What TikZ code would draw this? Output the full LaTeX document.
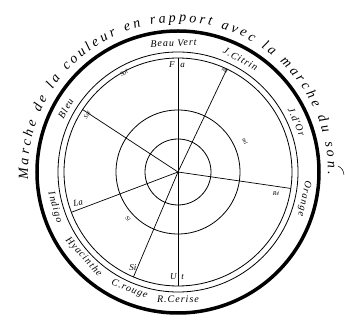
\documentclass[tikz,border=0pt]{standalone}
\usepackage{fontspec}
\setmainfont{Liberation Serif}
\newfontfamily\labfont[LetterSpace=10]{Liberation Serif}
\newcommand\ttlfont{\itshape\fontsize{14}{14}\selectfont}
\usetikzlibrary{decorations.text}
\begin{document}
\begin{tikzpicture}[x=1pt,y=1pt,
  ring/.style={line width=0.8pt},
  spoke/.style={line width=0.7pt},
  bandlab/.style={font=\labfont\itshape\fontsize{10}{10}\selectfont, inner sep=0pt},
  note/.style={font=\itshape\fontsize{9}{9}\selectfont, inner sep=0pt},
  tinylab/.style={font=\itshape\fontsize{6}{6}\selectfont, inner sep=0pt}]
\useasboundingbox (-178,-148) rectangle (167,172);
\coordinate (C) at (0,0);
% circles
\draw[line width=3.5pt] (C) circle (141);
\draw[ring] (C) circle (120);
\draw[ring] (C) circle (114);
\draw[ring] (C) circle (62);
\draw[ring] (C) circle (33);
% spokes
\coordinate (pFa) at (90:114);
\coordinate (pUt) at (270:114);
\coordinate (pMi) at (64.6:114);
\coordinate (pRe) at (-8.3:114);
\coordinate (pSi) at (247:114);
\coordinate (pLa) at (200.7:114);
\coordinate (pSol) at (146.8:114);
\draw[spoke] (pFa) -- (pUt);
\draw[spoke] (C) -- (pMi);
\draw[spoke] (C) -- (pRe);
\draw[spoke] (C) -- (pSi);
\draw[spoke] (C) -- (pLa);
\draw[spoke] (C) -- (pSol);
% title along the outside
\path[decorate, decoration={text along path,
  text={|\ttlfont|Marche de la couleur en rapport avec la marche du son.},
  text align={fit to path}}]
  (183:150) arc[start angle=183, end angle=-1, radius=150];
\coordinate (f1) at (160,6);
\coordinate (f2) at (166,-3);
\draw[line width=0.5pt] (f1) to[bend left=30] (f2);
% colour names in the band
\node[bandlab, rotate=2.3] (bv) at (92:129) {Beau Vert};
\node[bandlab, rotate=-29] (jc) at (61:129) {J.Citrin};
\node[bandlab, rotate=-67] (jo) at (23:129) {J.d'Or};
\node[bandlab, rotate=-102] (or) at (-12:129) {Orange};
\node[bandlab, rotate=0] (rc) at (-90:127) {R.Cerise};
\node[bandlab, rotate=-22.5] (cr) at (247.5:127) {C.rouge};
\node[bandlab, rotate=-48] (hy) at (222:127) {Hyacinthe};
\node[bandlab, rotate=-74] (in) at (196:128) {Indigo};
\node[bandlab, rotate=60.5] (bl) at (150.5:129) {Bleu};
% note names
\node[note] (nFa) at (-1,107) {F\hspace{6pt}a};
\node[note] (nUt) at (-1,-105) {U\hspace{5pt}t};
\node[tinylab, rotate=-25] (nMi) at (47,102) {mi};
\node[tinylab, rotate=28] (nSol) at (-54,99) {Sol};
\node[tinylab, rotate=57] (nSol2) at (-91,57) {Sol};
\node[note, rotate=10] (nLa) at (-100,-31) {La};
\node[note] (nSi) at (-45,-96) {Si};
\node[tinylab] (nRe) at (98,-21) {Ré};
\node[tinylab, rotate=-62] (nMi2) at (67,31) {mi};
\node[tinylab, rotate=-45] (nSi2) at (-50,-47) {Si};
\end{tikzpicture}
\end{document}
